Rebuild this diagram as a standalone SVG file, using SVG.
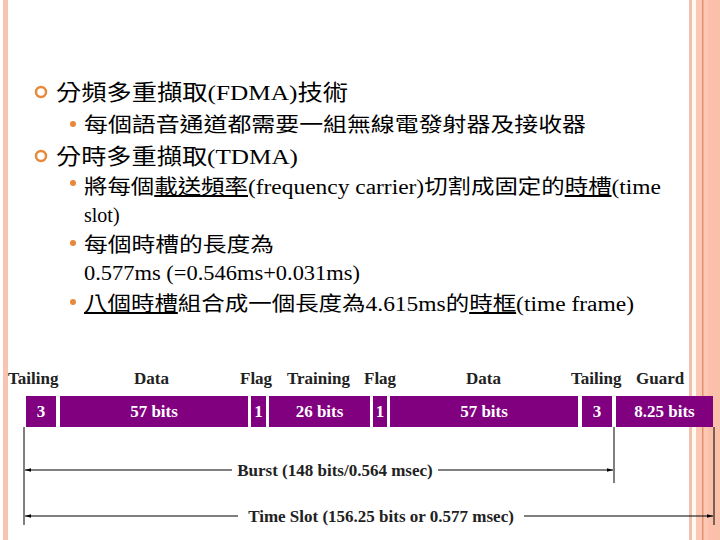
<svg xmlns="http://www.w3.org/2000/svg" width="720" height="540" viewBox="0 0 720 540">
<defs>
<style>
.t1{font-family:"Liberation Serif","Noto Sans CJK TC",serif;font-size:22px;fill:#000}
.t2{font-family:"Liberation Serif","Noto Sans CJK TC",serif;font-size:20px;fill:#000}
.lb{font-family:"Liberation Serif",serif;font-size:17px;font-weight:bold;fill:#222}
.bx{fill:#800080}
.bt{font-family:"Liberation Serif",serif;font-size:17px;font-weight:bold;fill:#fff;text-anchor:middle}
.ln{stroke:#000;stroke-width:1;fill:none}
.u{text-decoration:underline}
</style>
<marker id="ah" viewBox="0 0 10 10" refX="10" refY="5" markerWidth="6" markerHeight="6" orient="auto-start-reverse"><path d="M0,2 L10,5 L0,8 z" fill="#000"/></marker>
</defs>
<rect width="720" height="540" fill="#fff"/>
<rect x="3" y="0" width="5" height="540" fill="#f7c4b0"/>
<rect x="689" y="0" width="3" height="540" fill="#f0c0b0"/>
<rect x="692" y="0" width="4" height="540" fill="#fffaf0"/>
<rect x="696" y="0" width="24" height="540" fill="#fcc8b4"/>
<rect x="702" y="0" width="1.5" height="540" fill="#e09070"/>
<rect x="708" y="0" width="12" height="540" fill="#fbc0aa"/>
<g id="text">
<circle cx="41" cy="92" r="5" fill="none" stroke="#e8883a" stroke-width="2.5"/>
<text class="t1" x="56" y="100" textLength="292" lengthAdjust="spacingAndGlyphs">分頻多重擷取(FDMA)技術</text>
<circle cx="73" cy="124" r="3" fill="#e8883a"/>
<text class="t2" x="84" y="132" textLength="502" lengthAdjust="spacingAndGlyphs">每個語音通道都需要一組無線電發射器及接收器</text>
<circle cx="41" cy="156" r="5" fill="none" stroke="#e8883a" stroke-width="2.5"/>
<text class="t1" x="56" y="164" textLength="242" lengthAdjust="spacingAndGlyphs">分時多重擷取(TDMA)</text>
<circle cx="73" cy="183" r="3" fill="#e8883a"/>
<text class="t2" x="84" y="194" textLength="577" lengthAdjust="spacingAndGlyphs">將每個<tspan class="u">載送頻率</tspan>(frequency carrier)切割成固定的<tspan class="u">時槽</tspan>(time</text>
<text class="t2" x="84" y="222">slot)</text>
<circle cx="73" cy="243" r="3" fill="#e8883a"/>
<text class="t2" x="84" y="252" textLength="190" lengthAdjust="spacingAndGlyphs">每個時槽的長度為</text>
<text class="t2" x="84" y="280" textLength="276" lengthAdjust="spacingAndGlyphs">0.577ms (=0.546ms+0.031ms)</text>
<circle cx="73" cy="302" r="3" fill="#e8883a"/>
<text class="t2" x="84" y="311" textLength="550" lengthAdjust="spacingAndGlyphs"><tspan class="u">八個時槽</tspan>組合成一個長度為4.615ms的<tspan class="u">時框</tspan>(time frame)</text>
</g>
<g id="labels">
<text class="lb" x="8" y="384">Tailing</text>
<text class="lb" x="134" y="384">Data</text>
<text class="lb" x="240" y="384">Flag</text>
<text class="lb" x="287" y="384">Training</text>
<text class="lb" x="364" y="384">Flag</text>
<text class="lb" x="466" y="384">Data</text>
<text class="lb" x="571" y="384">Tailing</text>
<text class="lb" x="636" y="384">Guard</text>
</g>
<g id="n1"><rect class="bx" x="26" y="396" width="30" height="31"/><text class="bt" x="41" y="417">3</text></g>
<g id="n2"><rect class="bx" x="60" y="396" width="188" height="31"/><text class="bt" x="154" y="417">57 bits</text></g>
<g id="n3"><rect class="bx" x="251" y="396" width="15" height="31"/><text class="bt" x="258.5" y="417">1</text></g>
<g id="n4"><rect class="bx" x="269" y="396" width="101" height="31"/><text class="bt" x="319.5" y="417">26 bits</text></g>
<g id="n5"><rect class="bx" x="373" y="396" width="14" height="31"/><text class="bt" x="380" y="417">1</text></g>
<g id="n6"><rect class="bx" x="390" y="396" width="188" height="31"/><text class="bt" x="484" y="417">57 bits</text></g>
<g id="n7"><rect class="bx" x="582" y="396" width="30" height="31"/><text class="bt" x="597" y="417">3</text></g>
<g id="n8"><rect class="bx" x="616" y="396" width="97" height="31"/><text class="bt" x="664.5" y="417">8.25 bits</text></g>
<g id="connectors">
<line class="ln" x1="24" y1="427" x2="24" y2="525"/>
<line class="ln" x1="614" y1="427" x2="614" y2="483"/>
<line class="ln" x1="714" y1="427" x2="714" y2="525"/>
<line class="ln" x1="25" y1="470" x2="232" y2="470" marker-start="url(#ah)"/>
<line class="ln" x1="438" y1="470" x2="613" y2="470" marker-end="url(#ah)"/>
<line class="ln" x1="25" y1="516" x2="238" y2="516" marker-start="url(#ah)"/>
<line class="ln" x1="524" y1="516" x2="713" y2="516" marker-end="url(#ah)"/>
</g>
<g id="dimlabels">
<text class="lb" x="335" y="476" text-anchor="middle">Burst (148 bits/0.564 msec)</text>
<text class="lb" x="381" y="522" text-anchor="middle">Time Slot (156.25 bits or 0.577 msec)</text>
</g>
</svg>
